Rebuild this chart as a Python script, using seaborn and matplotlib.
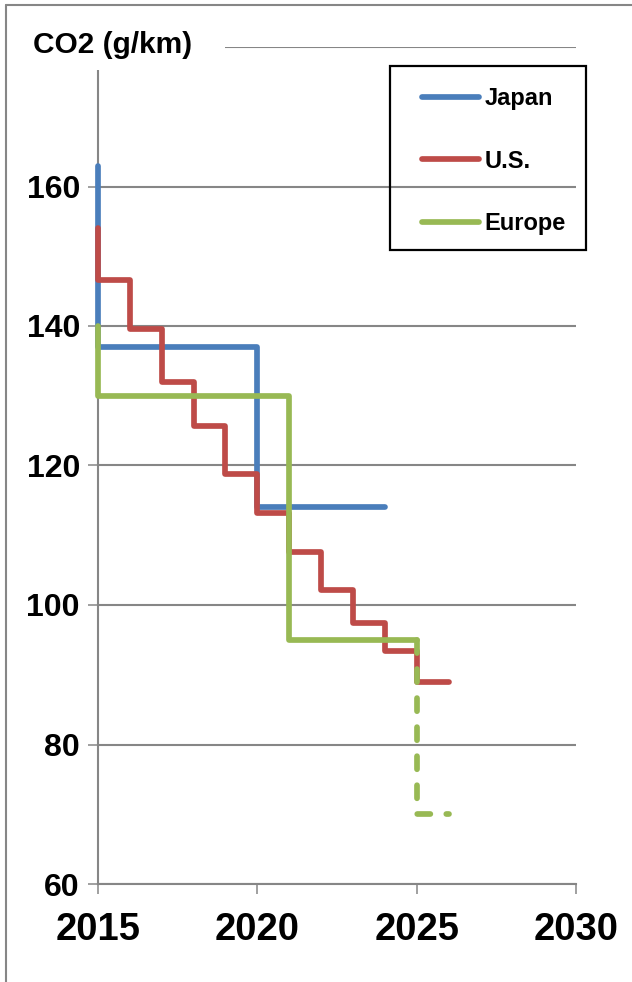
import matplotlib
matplotlib.use("Agg")
import matplotlib.pyplot as plt
import seaborn as sns
from matplotlib.lines import Line2D
from matplotlib.patches import Rectangle

# Fuel-economy CO2 targets (g/km), stepped by model year
years_jp = [2015, 2015, 2020, 2024]
co2_jp = [163, 137, 114, 114]

years_us = [2015, 2015, 2016, 2017, 2018, 2019, 2020, 2021, 2022, 2023, 2024, 2025, 2026]
co2_us = [154, 146.6, 139.6, 132, 125.6, 118.8, 113.2, 107.6, 102.2, 97.4, 93.4, 89, 89]

years_eu = [2015, 2015, 2021, 2025]
co2_eu = [140, 130, 95, 95]

years_eu_plan = [2025, 2025, 2026]
co2_eu_plan = [95, 70, 70]

series_names = ["Japan", "U.S.", "Europe"]
x_ticks = [2015, 2020, 2025, 2030]
y_ticks = [60, 80, 100, 120, 140, 160, 180]
y_tick_labels = ["60", "80", "100", "120", "140", "160", ""]

BLUE = "#4A7EBB"
RED = "#BE4B48"
GREEN = "#98B954"
GRID = "#868686"

sns.set_theme(style="white")
plt.rcParams["font.family"] = ["Liberation Sans", "DejaVu Sans"]
plt.rcParams["text.color"] = "black"

W, H = 632, 982
fig = plt.figure(figsize=(W / 100, H / 100), dpi=100)
ax = fig.add_axes([98 / W, 1 - 884 / H, (576 - 98) / W, (884 - 47) / H])

LW = 4.1
common = dict(sort=False, estimator=None, drawstyle="steps-post", linewidth=LW, ax=ax)

sns.lineplot(x=years_jp, y=co2_jp, color=BLUE, **common)
sns.lineplot(x=years_us, y=co2_us, color=RED, **common)
sns.lineplot(x=years_eu, y=co2_eu, color=GREEN, **common)
sns.lineplot(x=years_eu_plan, y=co2_eu_plan, color=GREEN, **common)

for i, line in enumerate(ax.get_lines()):
    line.set_clip_on(False)
    line.set_solid_capstyle("round")
    line.set_solid_joinstyle("round")
    line.set_dash_capstyle("round")
    line.set_dash_joinstyle("round")
    line.set_zorder(3 + i)
ax.get_lines()[3].set_dashes((2.3, 2.8))

ax.set_xlim(2015, 2030)
ax.set_ylim(60, 180)
ax.set_xticks(x_ticks)
ax.set_xticklabels([str(t) for t in x_ticks])
ax.set_yticks(y_ticks)
ax.set_yticklabels(y_tick_labels)
ax.set_xlabel("")
ax.set_ylabel("")

ax.yaxis.grid(True, color=GRID, linewidth=1.5)
ax.xaxis.grid(False)
ax.set_axisbelow(True)
for side in ["top", "right"]:
    ax.spines[side].set_visible(False)
for side in ["left", "bottom"]:
    ax.spines[side].set_color(GRID)
    ax.spines[side].set_linewidth(1.5)

ax.tick_params(axis="both", direction="out", length=7, width=1.1, color=GRID,
               bottom=True, left=True)
ax.tick_params(axis="y", pad=6, labelsize=23, labelcolor="black")
ax.tick_params(axis="x", pad=13, labelsize=27.5, labelcolor="black")
for lab in ax.get_yticklabels() + ax.get_xticklabels():
    lab.set_fontweight("bold")

# Legend for the three regions, with its box drawn separately
handles = [Line2D([], [], color=c, linewidth=LW, solid_capstyle="round") for c in (BLUE, RED, GREEN)]
leg = fig.legend(handles, series_names, loc="upper left",
                 bbox_to_anchor=(422 / W, 1 - 87 / H),
                 prop={"weight": "bold", "size": 17},
                 frameon=False, handlelength=2.4, handletextpad=0.25,
                 labelspacing=1.68, borderpad=0, borderaxespad=0)
for t in leg.get_texts():
    t.set_color("black")
fig.add_artist(Rectangle((390 / W, 1 - 250 / H), 196 / W, 184 / H, transform=fig.transFigure,
                         facecolor="none", edgecolor="black", linewidth=1.6, zorder=8))

# Axis title sitting over the top gridline
fig.add_artist(Rectangle((10 / W, 1 - 70 / H), 215 / W, 62 / H, transform=fig.transFigure,
                         facecolor="white", edgecolor="none", zorder=5))
fig.text(33 / W, 1 - 45 / H, "CO2 (g/km)", fontsize=21.5, fontweight="bold",
         color="black", va="center", ha="left", zorder=6)

# Chart-area border
fig.add_artist(Line2D([6 / W, 6 / W], [0, 1 - 4.5 / H], transform=fig.transFigure,
                      color=GRID, linewidth=1.5, zorder=7))
fig.add_artist(Line2D([6 / W, 1], [1 - 4.5 / H, 1 - 4.5 / H], transform=fig.transFigure,
                      color=GRID, linewidth=1.5, zorder=7))

fig.savefig("out.png", dpi=100)
